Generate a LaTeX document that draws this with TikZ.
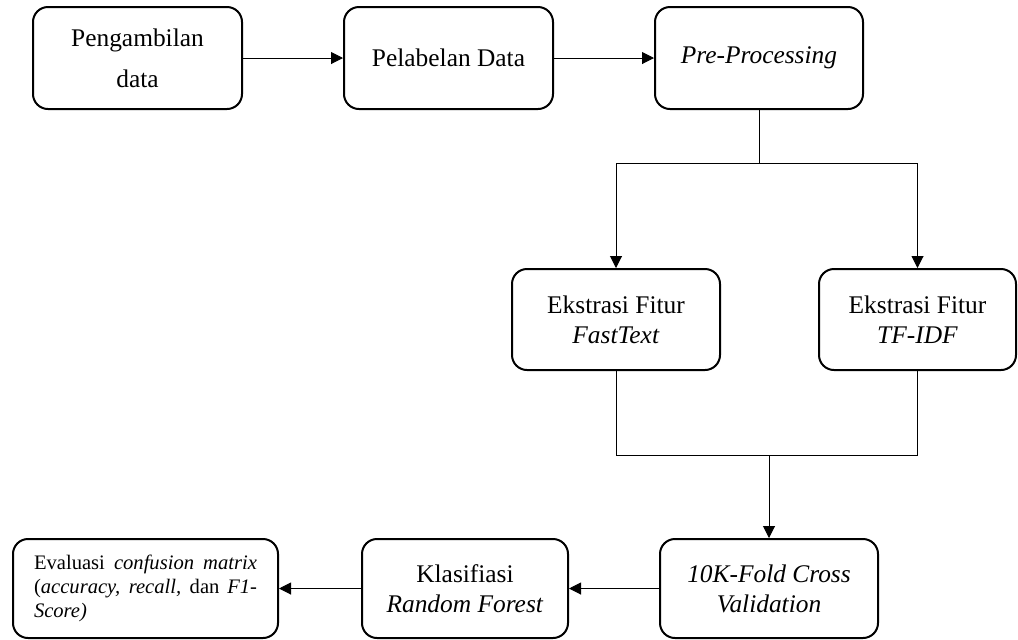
\documentclass[tikz,border=0pt]{standalone}
\usepackage{fontspec}
\setmainfont{Liberation Serif}
\usetikzlibrary{arrows.meta,calc}
\begin{document}
\begin{tikzpicture}[x=0.5pt,y=-0.5pt,
 box/.style={draw,line width=1pt,rounded corners=7.5pt,align=center,inner sep=0pt,font=\fontsize{12.7}{15}\selectfont},
 conn/.style={line width=0.5pt},
 arr/.style={conn,-{Triangle[length=6pt,width=6pt]}}]
\useasboundingbox (0,0) rectangle (1018,639);
\node[box,minimum width=104.5pt,minimum height=51pt] (b1) at (137.5,58) {Pengambilan\\[5.5pt]data};
\node[box,minimum width=104.5pt,minimum height=51pt] (b2) at (448.5,58) {Pelabelan Data};
\node[box,minimum width=104pt,minimum height=51pt] (b3) at (759,58) {\textit{Pre-Processing}};
\node[box,minimum width=104pt,minimum height=50.5pt] (b4) at (616,319.5) {Ekstrasi Fitur\\\textit{FastText}};
\node[box,minimum width=98.5pt,minimum height=50.5pt] (b5) at (917.5,319.5) {Ekstrasi Fitur\\\textit{TF-IDF}};
\node[box,minimum width=109pt,minimum height=49.5pt] (b6) at (769,588.5) {\textit{10K-Fold Cross}\\\textit{Validation}};
\node[box,minimum width=103pt,minimum height=49.5pt] (b7) at (465,588.5) {Klasifiasi\\\textit{Random Forest}};
\node[box,minimum width=132.5pt,minimum height=49.5pt,font=\fontsize{10.3}{12}\selectfont] (b8) at (145.5,588.5)
 {\parbox{111.5pt}{Evaluasi \textit{confusion matrix}\linebreak (\textit{accuracy, recall,} dan \textit{F1-}\linebreak\textit{Score)}}};
\coordinate (split) at (759,163);
\coordinate (merge) at (769,455);
\draw[arr] (b1) -- (b2);
\draw[arr] (b2) -- (b3);
\draw[conn] (b3.south) -- (split);
\draw[arr] (split) -| (b4.north);
\draw[arr] (split) -| (b5.north);
\draw[conn] (b4.south) |- (merge);
\draw[conn] (b5.south) |- (merge);
\draw[arr] (merge) -- (b6.north);
\draw[arr] (b6) -- (b7);
\draw[arr] (b7) -- (b8);
\end{tikzpicture}
\end{document}
